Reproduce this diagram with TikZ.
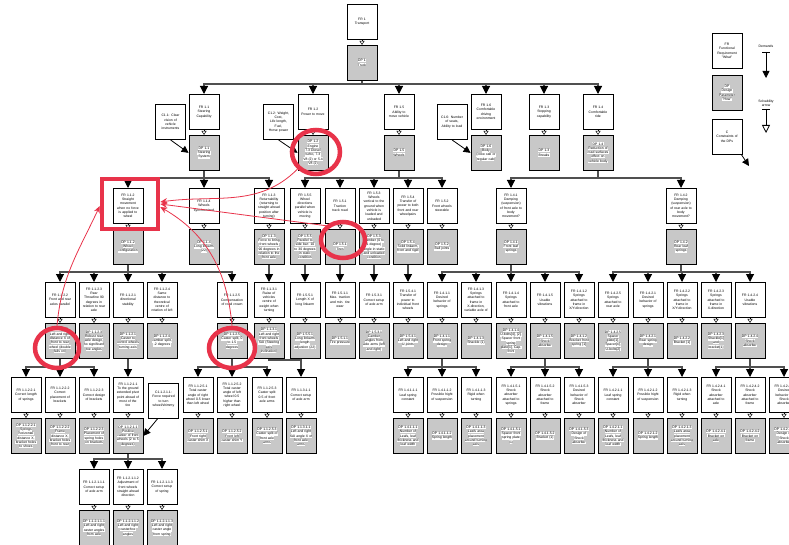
\documentclass[tikz,border=0pt]{standalone}
\usepackage{fontspec}
\setmainfont{Liberation Sans}
\usetikzlibrary{arrows.meta, positioning, shapes.geometric}
\definecolor{dpGray}{HTML}{C8C8C8}
\definecolor{linkGray}{HTML}{505050}
\definecolor{markRed}{HTML}{E8334A}
\newcommand{\boxfont}{\fontsize{3.4}{4.3}\selectfont}
\newcommand{\hl}[1]{\colorbox{white}{#1}}
\setlength{\fboxsep}{0.3pt}
\tikzset{
  frbox/.style={rectangle, draw=black, fill=white, line width=0.9pt,
                minimum width=30pt, minimum height=35pt, text width=28.4pt,
                align=center, inner sep=0.4pt, font=\boxfont},
  dpbox/.style={frbox, fill=dpGray},
  cbox/.style={frbox},
  fanarrow/.style={-{Triangle[width=8pt, length=8pt, color=black]}, draw=linkGray, line width=1.1pt},
  solvarrow/.style={-{Triangle[open, width=5pt, length=4pt]}, black, line width=0.5pt},
  carrow/.style={-{Triangle[width=7pt, length=7pt]}, black, line width=0.8pt},
  redarrow/.style={-{Stealth[length=7pt, width=6pt]}, markRed, line width=0.8pt},
  redring/.style={ellipse, draw=markRed, line width=4.5pt, inner sep=0pt},
  redsquare/.style={rectangle, draw=markRed, line width=4.5pt, inner sep=0pt},
}
% FR box with its DP box below
\newcommand{\frdp}[5]{%
  \node[frbox, anchor=north] (fr#1) at (#2,#3) {#4};
  \node[dpbox, below=5pt of fr#1] (dp#1) {#5};
  \draw[solvarrow] (fr#1) -- (dp#1);}
% DP decomposed into FR children
\newcommand{\fan}[3][10pt]{%
  \foreach \ch in {#3}{%
    \draw[fanarrow] (#2.south) |- ([yshift=#1]\ch.north) -- (\ch.north);}}

\begin{document}
\begin{tikzpicture}[x=1pt, y=-1pt]
  \useasboundingbox (0,0) rectangle (789,545);

  % level 0
  \frdp{1}{362}{4}{FR 1\\Transport}{\hl{DP 1}\\\hl{Truck}}

  % level 1
  \frdp{11}{204}{94}{FR 1.1\\Steering\\Capability}{\hl{DP 1.1}\\\hl{Steering}\\\hl{System}}
  \frdp{12}{313}{94}{FR 1.2\\Power to move}{\hl{DP 1.2}\\\hl{Engine}\\\hl{7.3 Diesel}\\\hl{turbo, 7.3}\\\hl{V8 (2) or 5.4}\\\hl{V8 (2)}}
  \frdp{15}{399}{94}{FR 1.5\\Ability to\\move vehicle}{\hl{DP 1.5}\\\hl{Wheels}}
  \frdp{16}{486}{94}{FR 1.6\\Comfortable\\driving\\environment}{\hl{DP 1.6}\\\hl{Body}\\\hl{(crew cab or}\\\hl{regular cab)}}
  \frdp{13}{544}{94}{FR 1.3\\Stopping\\capability}{\hl{DP 1.3}\\\hl{Breaks}}
  \frdp{14}{598}{94}{FR 1.4\\Comfortable\\ride}{\hl{DP 1.4}\\\hl{Reduction of}\\\hl{road surfaces}\\\hl{effect on}\\\hl{vehicle body}}
  \node[cbox, anchor=north] (c11) at (170.5,104) {C1.1: Clear\\vision of\\vehicle\\instruments};
  \node[cbox, anchor=north] (c12) at (278.5,104) {C1.2: Weight,\\Cost,\\Life length,\\Fuel,\\Horse power};
  \node[cbox, anchor=north] (c16) at (452,104) {C1.6: Number\\of seats,\\Ability to load};

  % level 2
  \frdp{112}{128}{188}{FR 1.1.2\\Straight\\movement\\when no force\\is applied to\\wheel}{\hl{DP 1.1.2}\\\hl{Wheel}\\\hl{configuration}}
  \frdp{114}{204}{188}{FR 1.1.4\\Wheels\\synchronized}{\hl{DP 1.1.4}\\\hl{Long linkarm}\\\hl{(22)}}
  \frdp{113}{269}{188}{FR 1.1.3\\Returnability\\(returning to\\straight ahead\\position after\\turning)}{\hl{DP 1.1.3}\\\hl{Force to bring}\\\hl{front wheels}\\\hl{90 degrees in}\\\hl{relation to the}\\\hl{front axle}}
  \frdp{155}{305}{188}{FR 1.5.5\\Wheel\\directions\\parallel when\\vehicle is\\moving}{\hl{DP 1.5.5}\\\hl{Parallel to}\\\hl{side bar: 10}\\\hl{to 30 degrees}\\\hl{in static}\\\hl{condition}}
  \frdp{151}{340}{188}{FR 1.5.1\\Traction\\track road}{\hl{DP 1.5.1}\\\hl{Tires}}
  \frdp{153}{374}{188}{FR 1.5.3\\Wheels\\vertical to the\\ground when\\vehicle is\\loaded and\\unloaded}{\hl{DP 1.5.3}\\\hl{Camber (0 to}\\\hl{1 degree)}\\\hl{angle in static}\\\hl{and unloaded}\\\hl{condition}}
  \frdp{154}{408}{188}{FR 1.5.4\\Transfer of\\power to both\\front and rear\\wheelpairs}{\hl{DP 1.5.4}\\\hl{Solid linkarm,}\\\hl{front and rigid}}
  \frdp{152}{442}{188}{FR 1.5.2\\Front wheels\\steerable}{\hl{DP 1.5.2}\\\hl{Ball joints}}
  \frdp{141}{511}{188}{FR 1.4.1\\Damping\\(suspension)\\of front axle to\\body\\movement?}{\hl{DP 1.4.1}\\\hl{Front leaf}\\\hl{springs}}
  \frdp{142}{681}{188}{FR 1.4.2\\Damping\\(suspension)\\of rear axle to\\body\\movement?}{\hl{DP 1.4.2}\\\hl{Rear leaf}\\\hl{springs}}

  % level 3
  \frdp{1122}{60}{282}{FR 1.1.2.2\\Front and rear\\axles parallel}{\hl{DP 1.1.2.2}\\\hl{Left and right}\\\hl{distance X of}\\\hl{front to rear}\\\hl{wheel (double}\\\hl{fails on)}}
  \frdp{1123}{94}{282}{FR 1.1.2.3\\Rear\\Throwline 90\\degrees in\\relation to rear\\axle}{\hl{DP 1.1.2.3}\\\hl{Robust rear}\\\hl{axle design,}\\\hl{no significant}\\\hl{toe angles}}
  \frdp{1121}{128}{282}{FR 1.1.2.1\\directional\\stability}{\hl{DP 1.1.2.1}\\\hl{Caster to}\\\hl{control wheels}\\\hl{turning axis}}
  \frdp{1124}{162}{282}{FR 1.1.2.4\\Same\\distance to\\theoretical\\centre of\\rotation of left}{\hl{DP 1.1.2.4}\\\hl{camber split,}\\\hl{-2 degrees}}
  \frdp{1125}{232}{282}{FR 1.1.2.5\\Compensation\\of road crown}{\hl{DP 1.1.2.5}\\\hl{Caster split, 0}\\\hl{to 1.5}\\\hl{degrees}}
  \frdp{1131}{269}{282}{FR 1.1.3.1\\Raise of\\vehicles\\centre of\\weight when\\turning}{\hl{DP 1.1.3.1}\\\hl{Left and right}\\\hl{front wheels}\\\hl{SAI (Steering}\\\hl{axis}\\\hl{inclination)}}
  \frdp{1551}{305}{282}{FR 1.5.5.1\\Length X of\\long linkarm}{\hl{DP 1.5.5.1}\\\hl{Long linkarm}\\\hl{length}\\\hl{adjustion (22)}}
  \frdp{1511}{340}{282}{FR 1.5.1.1\\Max. traction\\and min. tire\\wear}{\hl{DP 1.5.1.1}\\\hl{Tire pressure}}
  \frdp{1531}{374}{282}{FR 1.5.3.1\\Correct setup\\of axle arm}{\hl{DP 1.5.3.1}\\\hl{Camber}\\\hl{angles from}\\\hl{axle arms (left}\\\hl{and right)}}
  \frdp{1541}{408}{282}{FR 1.5.4.1\\Transfer of\\power to\\individual front\\wheels}{\hl{DP 1.5.4.1}\\\hl{Left and right}\\\hl{U-joints}}
  \frdp{1411}{442}{282}{FR 1.4.1.1\\Desired\\behavior of\\springs}{\hl{DP 1.4.1.1}\\\hl{Front spring}\\\hl{design}}
  \frdp{1413}{476}{282}{FR 1.4.1.3\\Springs\\attached to\\frame in\\X-direction,\\variable axle of}{\hl{DP 1.4.1.3}\\\hl{Shackle (1)}}
  \frdp{1414}{511}{282}{FR 1.4.1.4\\Springs\\attached to\\front axle}{\hl{DP 1.4.1.4}\\\hl{U-bolts[4], [2],}\\\hl{Spacer front}\\\hl{spring}\\\hl{plate[1], Cap.}\\\hl{front}}
  \frdp{1415}{545}{282}{FR 1.4.1.5\\Usable\\vibrations}{\hl{DP 1.4.1.5}\\\hl{Shock}\\\hl{absorber}}
  \frdp{1412}{579}{282}{FR 1.4.1.2\\Springs\\attached to\\frame in\\X/Y-direction}{\hl{DP 1.4.1.2}\\\hl{Bracket front}\\\hl{spring [1]}}
  \frdp{1425}{613}{282}{FR 1.4.2.5\\Springs\\attached to\\rear axle}{\hl{DP 1.4.2.5}\\\hl{Spacer}\\\hl{plate[1],}\\\hl{Spacer[4],}\\\hl{U-bolts[2]}}
  \frdp{1421}{648}{282}{FR 1.4.2.1\\Desired\\behavior of\\springs}{\hl{DP 1.4.2.1}\\\hl{Rear spring}\\\hl{design}}
  \frdp{1422}{682}{282}{FR 1.4.2.2\\Springs\\attached to\\frame in\\X/Y-direction}{\hl{DP 1.4.2.2}\\\hl{Bracket [1]}}
  \frdp{1423}{716}{282}{FR 1.4.2.3\\Springs\\attached to\\frame in\\X-direction}{\hl{DP 1.4.2.3}\\\hl{Shackle[1]}\\\hl{and}\\\hl{bracket[1]}}
  \frdp{1424}{750}{282}{FR 1.4.2.4\\Usable\\vibrations}{\hl{DP 1.4.2.4}\\\hl{Shock}\\\hl{absorber}}

  % level 4
  \frdp{11221}{26}{377}{FR 1.1.2.2.1\\Correct length\\of springs}{\hl{DP 1.1.2.2.1}\\\hl{Springs}\\\hl{horizontal}\\\hl{distance X,}\\\hl{bracket holes}\\\hl{to shoes}}
  \frdp{11222}{60}{377}{FR 1.1.2.2.2\\Correct\\placement of\\brackets}{\hl{DP 1.1.2.2.2}\\\hl{Frame}\\\hl{distance X,}\\\hl{bracket holes}\\\hl{front to rear}}
  \frdp{11223}{94}{377}{FR 1.1.2.2.3\\Correct design\\of brackets}{\hl{DP 1.1.2.2.3}\\\hl{Placement of}\\\hl{spring holes}\\\hl{on brackets}}
  \frdp{11211}{128}{377}{FR 1.1.2.1.1\\To the ground\\extended pivot\\point ahead of\\most of the\\tire}{\hl{DP 1.1.2.1.1}\\\hl{Positive}\\\hl{caster of front}\\\hl{wheels (2 to 5}\\\hl{degrees)}}
  \node[cbox, anchor=north] (c11211) at (163.5,383) {C1.1.2.1.1:\\Force required\\to turn\\wheel/shimmy\\.};
  \frdp{11251}{198}{377}{FR 1.1.2.5.1\\Total caster\\angle of right\\wheel 0.5 lower\\than left wheel}{\hl{DP 1.1.2.5.1}\\\hl{Front right}\\\hl{caster shim X}}
  \frdp{11252}{232}{377}{FR 1.1.2.5.2\\Total caster\\angle of left\\wheel 0.5\\higher than\\right wheel}{\hl{DP 1.1.2.5.2}\\\hl{Front left}\\\hl{caster shim Y}}
  \frdp{11253}{267}{377}{FR 1.1.2.5.3\\Caster split\\0.5 of front\\axle arms}{\hl{DP 1.1.2.5.3}\\\hl{Caster split of}\\\hl{front axle}\\\hl{arms}}
  \frdp{11311}{301}{377}{FR 1.1.3.1.1\\Correct setup\\of axle arm}{\hl{DP 1.1.3.1.1}\\\hl{Left and right}\\\hl{SAI angle X of}\\\hl{front axle}\\\hl{arms}}
  \frdp{14111}{408}{377}{FR 1.4.1.1.1\\Leaf spring\\constant}{\hl{DP 1.4.1.1.1}\\\hl{Number of}\\\hl{Leafs, leaf}\\\hl{thickness and}\\\hl{leaf width}}
  \frdp{14112}{442}{377}{FR 1.4.1.1.2\\Possible hight\\of suspension}{\hl{DP 1.4.1.1.2}\\\hl{Spring length}}
  \frdp{14113}{476}{377}{FR 1.4.1.1.3\\Rigid when\\turning}{\hl{DP 1.4.1.1.3}\\\hl{Leafs area}\\\hl{placement}\\\hl{around turning}\\\hl{axis}}
  \frdp{14151}{511}{377}{FR 1.4.1.5.1\\Shock\\absorber\\attached to\\springs}{\hl{DP 1.4.1.5.1}\\\hl{Spacer front}\\\hl{spring plate}\\\hl{(1)}}
  \frdp{14152}{545}{377}{FR 1.4.1.5.2\\Shock\\absorber\\attached to\\frame}{\hl{DP 1.4.1.5.2}\\\hl{Bracket (1)}}
  \frdp{14153}{579}{377}{FR 1.4.1.5.3\\Desired\\behavior of\\Shock\\absorber}{\hl{DP 1.4.1.5.3}\\\hl{Design of}\\\hl{Shock}\\\hl{absorber}}
  \frdp{14211}{613}{377}{FR 1.4.2.1.1\\Leaf spring\\constant}{\hl{DP 1.4.2.1.1}\\\hl{Number of}\\\hl{Leafs, leaf}\\\hl{thickness and}\\\hl{leaf width}}
  \frdp{14212}{648}{377}{FR 1.4.2.1.2\\Possible hight\\of suspension}{\hl{DP 1.4.2.1.2}\\\hl{Spring length}}
  \frdp{14213}{682}{377}{FR 1.4.2.1.3\\Rigid when\\turning}{\hl{DP 1.4.2.1.3}\\\hl{Leafs area}\\\hl{placement}\\\hl{around turning}\\\hl{axis}}
  \frdp{14241}{716}{377}{FR 1.4.2.4.1\\Shock\\absorber\\attached to\\axle}{\hl{DP 1.4.2.4.1}\\\hl{Bracket on}\\\hl{axle}}
  \frdp{14242}{750}{377}{FR 1.4.2.4.2\\Shock\\absorber\\attached to\\frame}{\hl{DP 1.4.2.4.2}\\\hl{Bracket on}\\\hl{frame}}
  \frdp{14243}{784}{377}{FR 1.4.2.4.3\\Desired\\behavior of\\Shock\\absorber}{\hl{DP 1.4.2.4.3}\\\hl{Design of}\\\hl{Shock}\\\hl{absorber}}

  % level 5
  \frdp{112111}{94}{469}{FR 1.1.2.1.1.1\\Correct setup\\of axle arm}{\hl{DP 1.1.2.1.1.1}\\\hl{Left and right}\\\hl{caster angles}\\\hl{from axle}}
  \frdp{112112}{128}{469}{FR 1.1.2.1.1.2\\Adjustment of\\front wheels\\straight ahead\\direction}{\hl{DP 1.1.2.1.1.2}\\\hl{Left and right}\\\hl{caster/toe}\\\hl{angles}}
  \frdp{112113}{162}{469}{FR 1.1.2.1.1.3\\Correct setup\\of spring}{\hl{DP 1.1.2.1.1.3}\\\hl{Left and right}\\\hl{caster angle}\\\hl{from spring}}

  % decomposition
  \fan{dp1}{fr11,fr12,fr15,fr16,fr13,fr14}
  \fan{dp11}{fr112,fr114,fr113}
  \fan{dp15}{fr155,fr151,fr153,fr154,fr152}
  \fan{dp14}{fr141,fr142}
  \fan{dp112}{fr1122,fr1123,fr1121,fr1124,fr1125}
  \fan{dp113}{fr1131}
  \fan{dp155}{fr1551}
  \fan{dp151}{fr1511}
  \fan{dp153}{fr1531}
  \fan{dp154}{fr1541}
  \fan{dp141}{fr1411,fr1413,fr1414,fr1415,fr1412}
  \fan{dp142}{fr1425,fr1421,fr1422,fr1423,fr1424}
  \fan{dp1122}{fr11221,fr11222,fr11223}
  \fan{dp1121}{fr11211}
  \fan{dp1125}{fr11251,fr11252,fr11253}
  \fan[17pt]{dp1131}{fr11311}
  \fan{dp1411}{fr14111,fr14112,fr14113}
  \fan{dp1415}{fr14151,fr14152,fr14153}
  \fan{dp1421}{fr14211,fr14212,fr14213}
  \fan{dp1424}{fr14241,fr14242,fr14243}
  \fan{dp11211}{fr112111,fr112112,fr112113}

  % constraints
  \draw[carrow] (c11.south) -- (dp11.west);
  \draw[carrow] (c12.south) -- (dp12.west);
  \draw[carrow] (c16.south) -- (dp16.west);
  \draw[carrow] ([xshift=-6pt]c11211.south) -- (dp11211.east);

  % legend
  \node[frbox, anchor=north] (lgfr) at (727,33) {FR\\Functional\\Requirement\\"What"};
  \node[dpbox, below=6pt of lgfr] (lgdp) {\hl{DP}\\\hl{Design}\\\hl{Parameter}\\\hl{"How"}};
  \node[cbox, below=8pt of lgdp] (lgc) {C\\Constraints of\\the DPs};
  \node[font=\boxfont] (lgdem) at (766,46) {Demands};
  \node[font=\boxfont, align=center] (lgsolv) at (766,103) {Solvability\\arrow};
  \coordinate (dmA) at (766,52);
  \coordinate (dmB) at (766,78);
  \coordinate (svA) at (766,109);
  \coordinate (svB) at (766,133);
  \coordinate (lgtip) at (749,166);
  \draw[line width=0.8pt] ([xshift=-4pt]dmA) -- ([xshift=4pt]dmA);
  \draw[carrow] (dmA) -- (dmB);
  \draw[line width=0.8pt] ([xshift=-4pt]svA) -- ([xshift=4pt]svA);
  \draw[-{Triangle[open, width=8pt, length=8pt]}, line width=0.8pt] (svA) -- (svB);
  \draw[carrow] ([xshift=-1pt]lgc.south east) -- (lgtip);

  % red markings
  \node[redring, minimum width=48pt, minimum height=44pt] (ringEngine) at (316,152) {};
  \node[redring, minimum width=44pt, minimum height=36pt] (ringTires) at (343,240) {};
  \node[redring, minimum width=44pt, minimum height=40pt] (ringDist) at (57,348) {};
  \node[redring, minimum width=46pt, minimum height=40pt] (ringCaster) at (232,348) {};
  \node[redsquare, minimum width=56pt, minimum height=50pt] (markStraight) at (130,204) {};
  \draw[redarrow] (ringEngine.south west) to[out=-135, in=8] ([yshift=2pt]markStraight.east);
  \draw[redarrow] (ringTires.north west) -- (markStraight.east);
  \draw[redarrow] (ringCaster.north) to[out=95, in=-30] ([yshift=-3pt]markStraight.east);
  \draw[redarrow] (ringDist.north) to[out=85, in=-115] ([yshift=-2pt]markStraight.west);
\end{tikzpicture}
\end{document}
